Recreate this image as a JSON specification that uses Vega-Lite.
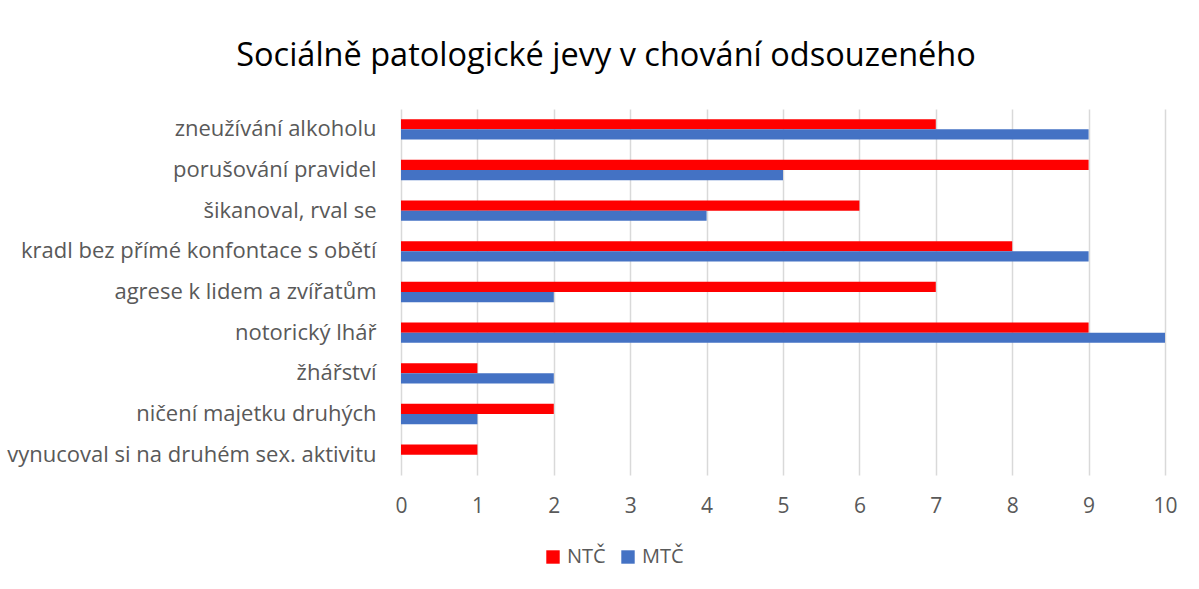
{
  "$schema": "https://vega.github.io/schema/vega-lite/v6.json",
  "autosize": {"type": "none"},
  "width": 764,
  "height": 366,
  "padding": {"left": 401, "top": 109, "right": 34, "bottom": 114},
  "background": "white",
  "config": {"view": {"stroke": null}, "font": "Open Sans"},
  "title": {
    "text": "Sociálně patologické jevy v chování odsouzeného",
    "font": "Open Sans",
    "fontSize": 32.5,
    "fontWeight": "normal",
    "color": "#000000",
    "anchor": "middle",
    "dx": -177,
    "offset": 37
  },
  "data": {
    "values": [
      {"kategorie": "zneužívání alkoholu", "skupina": "NTČ", "hodnota": 7},
      {"kategorie": "zneužívání alkoholu", "skupina": "MTČ", "hodnota": 9},
      {"kategorie": "porušování pravidel", "skupina": "NTČ", "hodnota": 9},
      {"kategorie": "porušování pravidel", "skupina": "MTČ", "hodnota": 5},
      {"kategorie": "šikanoval, rval se", "skupina": "NTČ", "hodnota": 6},
      {"kategorie": "šikanoval, rval se", "skupina": "MTČ", "hodnota": 4},
      {"kategorie": "kradl bez přímé konfontace s obětí", "skupina": "NTČ", "hodnota": 8},
      {"kategorie": "kradl bez přímé konfontace s obětí", "skupina": "MTČ", "hodnota": 9},
      {"kategorie": "agrese k lidem a zvířatům", "skupina": "NTČ", "hodnota": 7},
      {"kategorie": "agrese k lidem a zvířatům", "skupina": "MTČ", "hodnota": 2},
      {"kategorie": "notorický lhář", "skupina": "NTČ", "hodnota": 9},
      {"kategorie": "notorický lhář", "skupina": "MTČ", "hodnota": 10},
      {"kategorie": "žhářství", "skupina": "NTČ", "hodnota": 1},
      {"kategorie": "žhářství", "skupina": "MTČ", "hodnota": 2},
      {"kategorie": "ničení majetku druhých", "skupina": "NTČ", "hodnota": 2},
      {"kategorie": "ničení majetku druhých", "skupina": "MTČ", "hodnota": 1},
      {"kategorie": "vynucoval si na druhém sex. aktivitu", "skupina": "NTČ", "hodnota": 1},
      {"kategorie": "vynucoval si na druhém sex. aktivitu", "skupina": "MTČ", "hodnota": 0}
    ]
  },
  "mark": {"type": "bar"},
  "encoding": {
    "y": {
      "field": "kategorie",
      "type": "nominal",
      "sort": null,
      "scale": {"paddingInner": 0.5, "paddingOuter": 0.25},
      "axis": {
        "title": null,
        "domain": false,
        "ticks": false,
        "labelPadding": 25,
        "labelFontSize": 22,
        "labelColor": "#595959",
        "labelFont": "Open Sans",
        "labelLimit": 420
      }
    },
    "yOffset": {"field": "skupina", "type": "nominal", "sort": ["NTČ", "MTČ"]},
    "x": {
      "field": "hodnota",
      "type": "quantitative",
      "scale": {"domain": [0, 10], "nice": false},
      "axis": {
        "title": null,
        "domain": false,
        "ticks": false,
        "values": [0,1,2,3,4,5,6,7,8,9,10],
        "labelOverlap": false,
        "labelFlush": false,
        "grid": true,
        "gridColor": "#d9d9d9",
        "gridWidth": 1.5,
        "labelPadding": 20,
        "labelFontSize": 21,
        "labelColor": "#595959",
        "labelFont": "Open Sans"
      }
    },
    "color": {
      "field": "skupina",
      "type": "nominal",
      "sort": ["NTČ", "MTČ"],
      "scale": {"domain": ["NTČ", "MTČ"], "range": ["#ff0000", "#4472c4"]},
      "legend": {
        "title": null,
        "orient": "none",
        "direction": "horizontal",
        "legendX": 142,
        "legendY": 438,
        "symbolType": "square",
        "symbolSize": 180,
        "symbolStrokeWidth": 0,
        "labelFontSize": 20,
        "labelColor": "#595959",
        "labelFont": "Open Sans",
        "columnPadding": 12
      }
    }
  }
}
